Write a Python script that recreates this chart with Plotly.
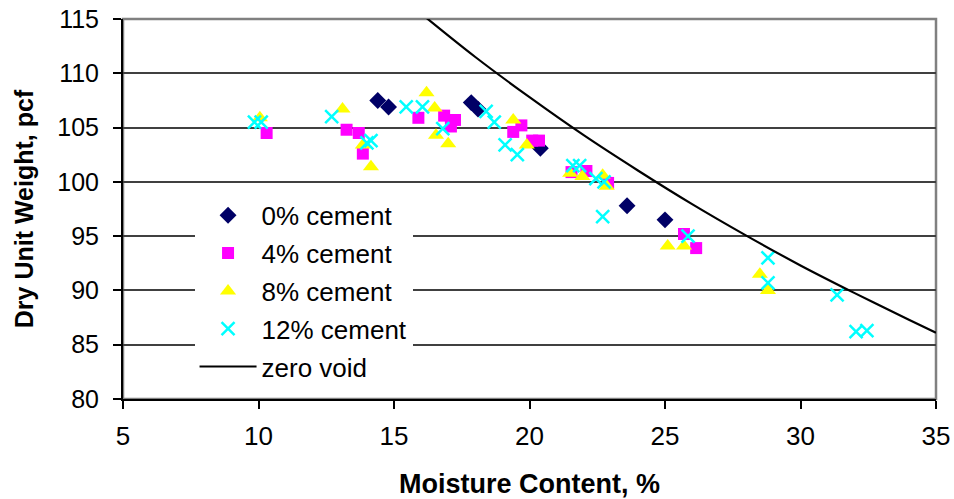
import plotly.graph_objects as go

# ---- data ----
cement0_x = [14.4, 14.8, 17.85, 18.1, 20.4, 23.6, 25.0]
cement0_y = [107.5, 106.9, 107.3, 106.7, 103.1, 97.8, 96.5]

cement4_x = [10.3, 13.25, 13.7, 13.85, 15.9, 16.85, 17.25, 17.1, 19.4, 19.7,
             20.1, 20.35, 21.55, 22.1, 22.9, 25.7, 26.15]
cement4_y = [104.5, 104.8, 104.5, 102.6, 105.9, 106.1, 105.7, 105.1, 104.6, 105.2,
             103.8, 103.8, 100.9, 101.0, 99.9, 95.2, 93.9]

cement8_x = [10.05, 13.1, 13.85, 14.15, 16.2, 16.5, 16.55, 17.0, 19.4, 19.9,
             21.5, 21.95, 22.7, 22.85, 25.1, 25.7, 28.5, 28.8]
cement8_y = [105.9, 106.7, 103.4, 101.4, 108.2, 106.8, 104.3, 103.5, 105.7, 103.4,
             100.8, 100.5, 100.6, 99.6, 94.1, 94.1, 91.5, 90.0]

cement12_x = [9.85, 10.1, 12.7, 14.0, 14.15, 15.45, 16.05, 16.8, 18.4, 18.7,
              19.1, 19.55, 21.6, 21.85, 22.45, 22.75, 22.7, 25.85, 28.8, 28.8,
              31.35, 32.05, 32.45]
cement12_y = [105.5, 105.5, 106.0, 103.6, 103.8, 106.9, 106.9, 104.9, 106.5, 105.5,
              103.4, 102.5, 101.5, 101.5, 100.3, 100.0, 96.8, 95.0, 93.0, 90.7,
              89.6, 86.2, 86.3]

zero_void_x = [16, 18, 20, 22, 24, 26, 28, 30, 32, 34, 35]
zero_void_y = [115.5, 111.5, 107.8, 104.3, 101.05, 97.95, 95.05, 92.3, 89.75, 87.3, 86.1]

x_ticks = [5, 10, 15, 20, 25, 30, 35]
y_ticks = [80, 85, 90, 95, 100, 105, 110, 115]

FONT = "Liberation Sans, Arial, sans-serif"

fig = go.Figure()
fig.add_trace(go.Scatter(x=cement0_x, y=cement0_y, mode="markers", name="0% cement",
                         legendgroup="a",
                         marker=dict(symbol="diamond", size=13, color="#000066")))
fig.add_trace(go.Scatter(x=cement4_x, y=cement4_y, mode="markers", name="4% cement",
                         legendgroup="b",
                         marker=dict(symbol="square", size=12, color="#FF00FF")))
fig.add_trace(go.Scatter(x=cement8_x, y=cement8_y, mode="markers", name="8% cement",
                         legendgroup="c",
                         marker=dict(symbol="triangle-up", size=14, color="#FFFF00")))
fig.add_trace(go.Scatter(x=cement12_x, y=cement12_y, mode="markers", name="12% cement",
                         legendgroup="d",
                         marker=dict(symbol="x-thin", size=13, color="#00FFFF",
                                     line=dict(color="#00FFFF", width=2.5))))
fig.add_trace(go.Scatter(x=zero_void_x, y=zero_void_y, mode="lines", name="zero void",
                         legendgroup="e",
                         line=dict(color="black", width=2.2, shape="spline")))

# grey plot-area frame (top/right)
fig.add_shape(type="rect", xref="paper", yref="paper", x0=0, x1=1, y0=0, y1=1,
              line=dict(color="#808080", width=2.5), layer="below")
# white legend area hiding the gridlines behind the legend
fig.add_shape(type="rect", xref="paper", yref="paper", x0=0.0677, x1=0.374,
              y0=0.03, y1=0.537, line=dict(width=0), fillcolor="white",
              layer="between")

fig.update_layout(
    width=954, height=499,
    margin=dict(l=123, r=18, t=19, b=100),
    paper_bgcolor="white", plot_bgcolor="white",
    font=dict(family=FONT, color="black"),
    showlegend=True,
    legend=dict(x=0.088, y=0.545, xanchor="left", yanchor="top",
                bgcolor="white", borderwidth=0,
                font=dict(size=26, family=FONT, color="black"),
                tracegroupgap=1, itemwidth=57, traceorder="grouped"),
    xaxis=dict(range=[5, 35], tickvals=x_ticks, ticktext=[str(v) for v in x_ticks],
               showgrid=False, zeroline=False, automargin=False,
               showline=True, linecolor="black", linewidth=2,
               ticks="outside", ticklen=8, tickwidth=1.5, tickcolor="black",
               ticklabelstandoff=5, ticklabeloverflow="allow",
               tickfont=dict(size=26, family=FONT),
               title=dict(text="<b>Moisture Content, %</b>", standoff=25,
                          font=dict(size=27, family=FONT))),
    yaxis=dict(range=[80, 115], tickvals=y_ticks, ticktext=[str(v) for v in y_ticks],
               showgrid=True, gridcolor="#404040", gridwidth=2, zeroline=False,
               automargin=False,
               showline=True, linecolor="black", linewidth=2,
               ticks="outside", ticklen=8, tickwidth=1.5, tickcolor="black",
               ticklabelstandoff=9, ticklabeloverflow="allow",
               tickfont=dict(size=25, family=FONT),
               title=dict(text="<b>Dry Unit Weight, pcf</b>", standoff=17,
                          font=dict(size=25, family=FONT))),
)

# remove the page's default body margin so the figure fills the window exactly
fig.write_html("out.html", config={"displayModeBar": False},
               post_script="document.body.style.margin='0px';")
